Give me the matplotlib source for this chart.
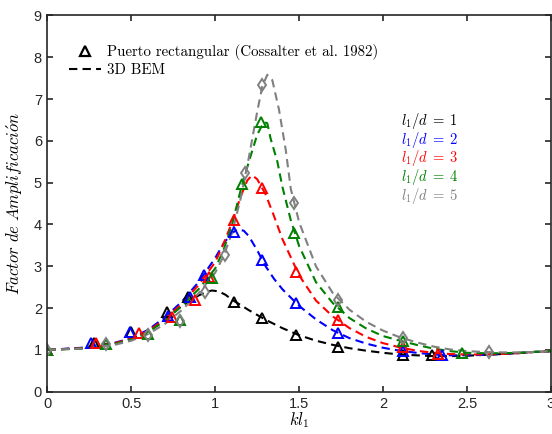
"""Factor de amplificación vs kl1: puerto rectangular (Cossalter et al. 1982) y 3D BEM."""

import matplotlib
matplotlib.use("Agg")
import matplotlib.pyplot as plt
from matplotlib.lines import Line2D

plt.rcParams["mathtext.fontset"] = "cm"

# --- 3D BEM curves ---
bem_x_k = [0, 0.2, 0.4, 0.5, 0.6, 0.7, 0.8, 0.9, 0.95, 0.98, 1.02, 1.06, 1.1, 1.2, 1.3, 1.4,
           1.5, 1.6, 1.7, 1.8, 1.9, 2.0, 2.1, 2.2, 2.3, 2.4, 2.5, 2.6, 2.7, 2.8, 2.9, 3.0]
bem_y_k = [1.0, 1.04, 1.15, 1.26, 1.45, 1.72, 2.05, 2.3, 2.39, 2.42, 2.4, 2.32, 2.2, 1.95, 1.72, 1.52,
           1.35, 1.22, 1.12, 1.04, 0.98, 0.93, 0.89, 0.87, 0.85, 0.85, 0.86, 0.88, 0.9, 0.92, 0.95, 0.97]

bem_x_b = [0, 0.2, 0.4, 0.5, 0.6, 0.7, 0.8, 0.9, 1.0, 1.05, 1.1, 1.135, 1.17, 1.2, 1.25, 1.3, 1.35,
           1.4, 1.5, 1.6, 1.7, 1.8, 1.9, 2.0, 2.1, 2.2, 2.3, 2.4, 2.5, 2.6, 2.7, 2.8, 2.9, 3.0]
bem_y_b = [1.0, 1.05, 1.17, 1.28, 1.48, 1.78, 2.15, 2.62, 3.2, 3.55, 3.8, 3.88, 3.85, 3.72, 3.38, 3.0, 2.7,
           2.45, 2.05, 1.73, 1.47, 1.28, 1.15, 1.05, 0.98, 0.93, 0.89, 0.87, 0.87, 0.88, 0.9, 0.92, 0.95, 0.97]

bem_x_r = [0, 0.2, 0.4, 0.5, 0.6, 0.7, 0.8, 0.9, 1.0, 1.05, 1.1, 1.15, 1.19, 1.22, 1.25, 1.3, 1.35,
           1.4, 1.5, 1.6, 1.7, 1.8, 1.9, 2.0, 2.1, 2.2, 2.3, 2.4, 2.5, 2.6, 2.7, 2.8, 2.9, 3.0]
bem_y_r = [1.0, 1.04, 1.16, 1.27, 1.45, 1.74, 2.1, 2.55, 3.1, 3.55, 4.05, 4.65, 5.05, 5.18, 5.08, 4.72, 4.2,
           3.65, 2.78, 2.18, 1.8, 1.52, 1.31, 1.16, 1.06, 0.98, 0.93, 0.9, 0.89, 0.89, 0.9, 0.92, 0.95, 0.97]

bem_x_g = [0, 0.2, 0.4, 0.5, 0.6, 0.7, 0.8, 0.9, 1.0, 1.05, 1.1, 1.15, 1.2, 1.25, 1.29, 1.31, 1.33,
           1.37, 1.4, 1.45, 1.5, 1.6, 1.7, 1.8, 1.9, 2.0, 2.1, 2.2, 2.3, 2.4, 2.5, 2.6, 2.7, 2.8, 2.9, 3.0]
bem_y_g = [1.0, 1.03, 1.14, 1.25, 1.42, 1.7, 2.05, 2.45, 2.95, 3.4, 4.0, 4.8, 5.5, 6.15, 6.45, 6.42, 6.05,
           5.5, 4.9, 4.1, 3.48, 2.62, 2.12, 1.76, 1.51, 1.33, 1.22, 1.12, 1.03, 0.97, 0.93, 0.92, 0.92, 0.93, 0.95, 0.97]

bem_x_gr = [0, 0.2, 0.4, 0.5, 0.6, 0.7, 0.8, 0.9, 1.0, 1.05, 1.1, 1.15, 1.2, 1.25, 1.28, 1.31, 1.34,
            1.38, 1.42, 1.45, 1.5, 1.6, 1.7, 1.8, 1.9, 2.0, 2.1, 2.2, 2.3, 2.4, 2.5, 2.6, 2.7, 2.8, 2.9, 3.0]
bem_y_gr = [1.0, 1.03, 1.12, 1.22, 1.38, 1.62, 1.95, 2.35, 2.85, 3.25, 3.8, 4.6, 5.6, 6.7, 7.3, 7.58, 7.45,
            6.74, 5.78, 4.85, 4.05, 3.0, 2.36, 1.96, 1.67, 1.46, 1.3, 1.18, 1.08, 1.01, 0.97, 0.95, 0.94, 0.94, 0.95, 0.97]

# --- Cossalter et al. (1982) points ---
exp_x_k = [0, 0.28, 0.5, 0.71, 0.84, 1.11, 1.28, 1.48, 1.73, 2.12, 2.29]
exp_y_k = [1.0, 1.17, 1.42, 1.91, 2.27, 2.15, 1.76, 1.36, 1.08, 0.88, 0.87]
exp_x_b = [0, 0.26, 0.49, 0.72, 0.85, 0.93, 1.11, 1.28, 1.48, 1.73, 2.12, 2.35]
exp_y_b = [1.0, 1.17, 1.43, 1.82, 2.26, 2.79, 3.83, 3.15, 2.11, 1.40, 0.97, 0.88]
exp_x_r = [0, 0.29, 0.545, 0.74, 0.88, 0.96, 1.11, 1.28, 1.48, 1.73, 2.12, 2.33]
exp_y_r = [1.0, 1.17, 1.40, 1.79, 2.19, 2.75, 4.11, 4.88, 2.87, 1.72, 1.06, 0.90]
exp_x_g = [0, 0.35, 0.6, 0.79, 0.98, 1.16, 1.27, 1.47, 1.73, 2.12, 2.47]
exp_y_g = [1.0, 1.13, 1.37, 1.72, 2.71, 4.97, 6.46, 3.80, 2.02, 1.22, 0.93]
exp_x_gr = [0, 0.35, 0.6, 0.79, 0.94, 1.06, 1.18, 1.28, 1.47, 1.73, 2.12, 2.63]
exp_y_gr = [1.0, 1.13, 1.35, 1.70, 2.39, 3.27, 5.24, 7.34, 4.51, 2.19, 1.28, 0.96]

ratios = ["1", "2", "3", "4", "5"]
colors = ["k", "b", "r", (0, 0.5, 0), (0.5, 0.5, 0.5)]
markers = ["^", "^", "^", "^", "d"]


def main() -> None:
    fig = plt.figure(figsize=(5.52, 4.34), dpi=100)
    ax = fig.add_axes([0.086, 0.0975, 0.912, 0.867])

    bem = [(bem_x_k, bem_y_k), (bem_x_b, bem_y_b), (bem_x_r, bem_y_r),
           (bem_x_g, bem_y_g), (bem_x_gr, bem_y_gr)]
    exp = [(exp_x_k, exp_y_k), (exp_x_b, exp_y_b), (exp_x_r, exp_y_r),
           (exp_x_g, exp_y_g), (exp_x_gr, exp_y_gr)]

    for (bx, by), c in zip(bem, colors):
        ax.plot(bx, by, linestyle=(0, (4, 2.5)), color=c, linewidth=1.5)
    for (ex, ey), c, m in zip(exp, colors, markers):
        ax.plot(ex, ey, linestyle="none", marker=m, markersize=6.5,
                markerfacecolor="none", markeredgecolor=c, markeredgewidth=1.4)

    for i, (r, c) in enumerate(zip(ratios, colors)):
        ax.text(2.105, 6.48 - 0.45 * i, rf"$l_1/d\;=\;{r}$", color=c,
                fontsize=10.5, va="center", ha="left")

    handles = [
        Line2D([], [], linestyle="none", marker="^", markersize=6.5,
               markerfacecolor="none", markeredgecolor="k", markeredgewidth=1.6),
        Line2D([], [], linestyle=(0, (4, 2.5)), color="k", linewidth=1.5),
    ]
    ax.legend(handles, ["Puerto rectangular (Cossalter et al. 1982)", "3D BEM"],
              loc="upper left", bbox_to_anchor=(0.03, 0.94), frameon=False,
              prop={"family": "cmr10", "size": 10.75}, handlelength=2.2,
              handletextpad=0.35, labelspacing=0.22, borderaxespad=0)

    ax.set_xlim(0, 3)
    ax.set_ylim(0, 9)
    ax.set_xticks([0, 0.5, 1, 1.5, 2, 2.5, 3])
    ax.set_xticklabels(["0", "0.5", "1", "1.5", "2", "2.5", "3"])
    ax.set_yticks(range(10))
    ax.tick_params(direction="in", top=True, right=True, length=4.5, width=1.2,
                   colors="#262626", labelsize=10.5, pad=4)
    for lab in ax.get_xticklabels() + ax.get_yticklabels():
        lab.set_family("Liberation Sans")
    for s in ax.spines.values():
        s.set_color("#262626")
        s.set_linewidth(1.2)

    ax.set_xlabel(r"$kl_1$", fontsize=12, labelpad=-1)
    ax.set_ylabel(r"$Factor\ de\ Amplificaci\acute{o}n$", fontsize=12, labelpad=6)

    fig.savefig("out.png", dpi=100)


if __name__ == "__main__":
    main()
